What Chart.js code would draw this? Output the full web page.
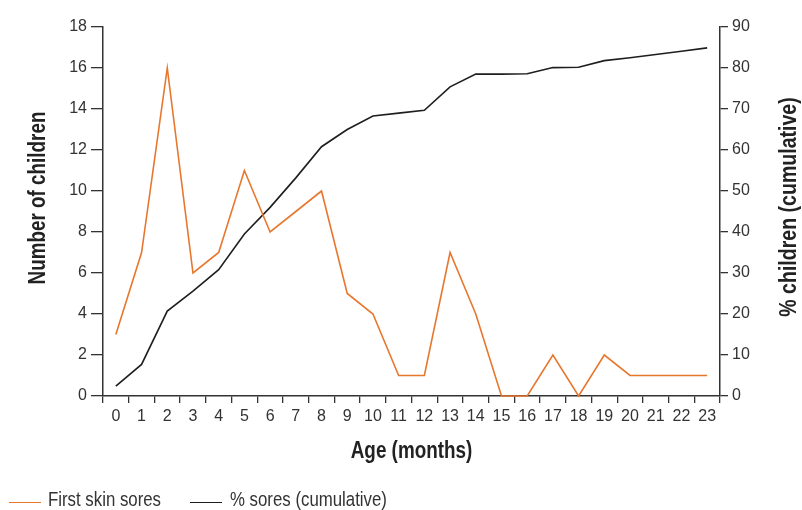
<!DOCTYPE html>
<html>
<head>
<meta charset="utf-8">
<script src="https://cdn.jsdelivr.net/npm/chart.js@4.4.1/dist/chart.umd.min.js"></script>
<style>
  html, body { margin: 0; padding: 0; background: #fff; }
  #wrap { position: relative; width: 802px; height: 510px; }
  .lg-line { position: absolute; height: 0; border-top-width: 1.5px; border-top-style: solid; width: 32px; top: 502px; }
  .lg-text { position: absolute; top: 487px; font-family: 'Liberation Sans', Arial, sans-serif; font-size: 20.5px;
             line-height: 24px; color: #333; white-space: nowrap; transform: scaleX(0.82); transform-origin: 0 50%; }
</style>
</head>
<body>
<div id="wrap">
  <canvas id="c" width="802" height="510"></canvas>
</div>
<script>
// ---- data ----
const months = ['0','1','2','3','4','5','6','7','8','9','10','11','12','13','14','15','16','17','18','19','20','21','22','23'];
const firstSkinSores = [3, 7, 16, 6, 7, 11, 8, 9, 10, 5, 4, 1, 1, 7, 4, 0, 0, 2, 0, 2, 1, 1, 1, 1];
const cumulativePct = [2.4, 7.7, 20.7, 25.6, 30.8, 39.5, 46.0, 53.2, 60.8, 65.0, 68.3, 69.0, 69.7, 75.4, 78.5, 78.5, 78.6, 80.1, 80.2, 81.8, 82.5, 83.3, 84.1, 84.9];
const seriesNames = ['First skin sores', '% sores (cumulative)'];
const axisTitles = { x: 'Age (months)', y: 'Number of children', y1: '% children (cumulative)' };

const ORANGE = '#E8772E';
const BLACK = '#1e1e1e';
const AXIS = '#333333';
const TICKFONT = { family: "'Liberation Sans', Arial, sans-serif", size: 16 };
const TITLE_FAMILY = "'Liberation Sans', Arial, sans-serif";

function drawCondensed(ctx, text, x, y, rot, sx) {
  ctx.save();
  ctx.translate(x, y);
  ctx.rotate(rot);
  ctx.scale(sx, 1);
  ctx.font = `bold 23px ${TITLE_FAMILY}`;
  ctx.fillStyle = '#222';
  ctx.textAlign = 'center';
  ctx.textBaseline = 'middle';
  ctx.fillText(text, 0, 0);
  ctx.restore();
}

const axisTitlePlugin = {
  id: 'axisTitlePlugin',
  afterDraw(chart) {
    const ctx = chart.ctx;
    const area = chart.chartArea;
    drawCondensed(ctx, axisTitles.x, (area.left + area.right) / 2, 452, 0, 0.82);
    drawCondensed(ctx, axisTitles.y, 39, 198, -Math.PI / 2, 0.82);
    drawCondensed(ctx, axisTitles.y1, 790, 207, -Math.PI / 2, 0.85);
  }
};

const chart = new Chart(document.getElementById('c'), {
  type: 'line',
  data: {
    labels: months,
    datasets: [
      { label: seriesNames[0], data: firstSkinSores, yAxisID: 'y', borderColor: ORANGE, backgroundColor: ORANGE,
        borderWidth: 1.6, pointRadius: 0, tension: 0, fill: false, clip: false },
      { label: seriesNames[1], data: cumulativePct, yAxisID: 'y1', borderColor: BLACK, backgroundColor: BLACK,
        borderWidth: 1.6, pointRadius: 0, tension: 0, fill: false, clip: false }
    ]
  },
  options: {
    responsive: false,
    animation: false,
    layout: { padding: { top: 27, bottom: 30, left: 0, right: 0 } },
    plugins: { legend: { display: false }, tooltip: { enabled: false } },
    scales: {
      x: {
        type: 'category',
        offset: true,
        grid: { offset: true, drawOnChartArea: false, drawTicks: true, tickLength: 7, color: AXIS, lineWidth: 1.3 },
        border: { display: true, color: AXIS, width: 1.5 },
        ticks: { color: '#333', font: TICKFONT, padding: 4, maxRotation: 0, autoSkip: false },
        afterFit(s) { s.height = 84; }
      },
      y: {
        position: 'left',
        min: 0, max: 18,
        ticks: { stepSize: 2, color: '#333', font: TICKFONT, padding: 4 },
        grid: { drawOnChartArea: false, drawTicks: true, tickLength: 12, color: AXIS, lineWidth: 1.3 },
        border: { display: true, color: AXIS, width: 1.5 },
        afterFit(s) { s.width = 103; }
      },
      y1: {
        position: 'right',
        min: 0, max: 90,
        ticks: { stepSize: 10, color: '#333', font: TICKFONT, padding: 4 },
        grid: { drawOnChartArea: false, drawTicks: true, tickLength: 8, color: AXIS, lineWidth: 1.3 },
        border: { display: true, color: AXIS, width: 1.5 },
        afterFit(s) { s.width = 82; }
      }
    }
  },
  plugins: [axisTitlePlugin]
});

// HTML legend built from the chart's datasets
const wrap = document.getElementById('wrap');
const legendPos = [ { line: 9, text: 48 }, { line: 190, text: 230 } ];
chart.data.datasets.forEach((ds, i) => {
  const ln = document.createElement('div');
  ln.className = 'lg-line';
  ln.style.left = legendPos[i].line + 'px';
  ln.style.borderTopColor = ds.borderColor;
  const tx = document.createElement('div');
  tx.className = 'lg-text';
  tx.style.left = legendPos[i].text + 'px';
  tx.textContent = ds.label;
  wrap.appendChild(ln); wrap.appendChild(tx);
});
</script>
</body>
</html>
